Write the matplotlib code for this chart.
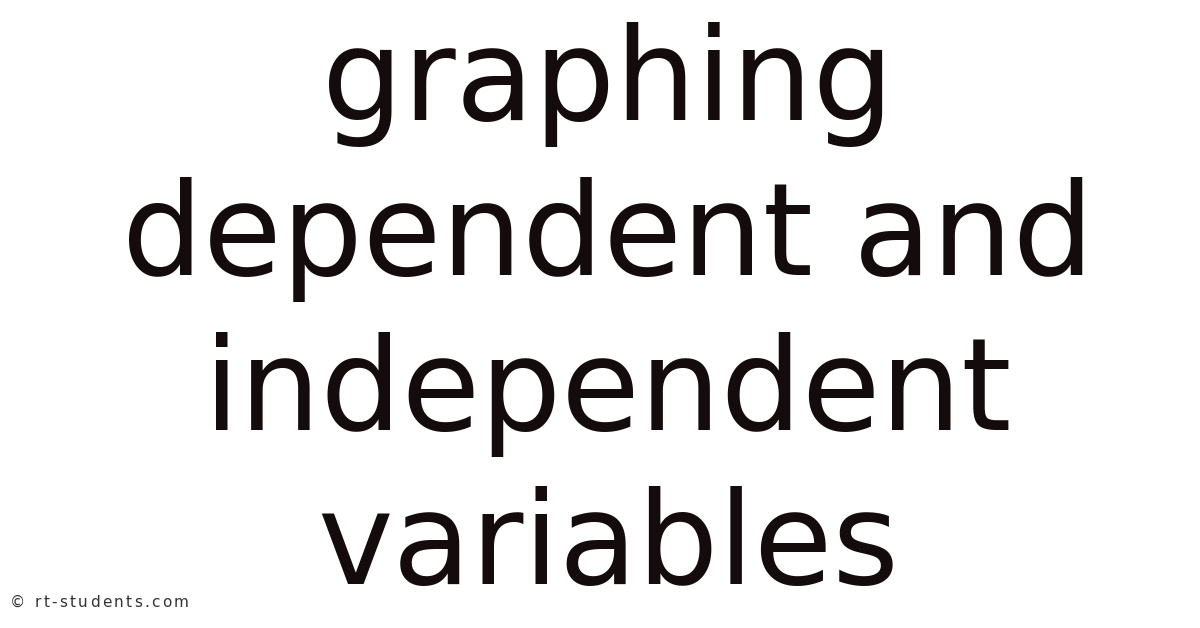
import matplotlib
matplotlib.use("Agg")
import matplotlib.pyplot as plt

# Title lines and their baselines (pixels from top)
LINES = ["graphing", "dependent and", "independent", "variables"]
BASELINES = [120, 275, 430, 584]
WATERMARK = "\u00a9 rt-students.com"

W, H = 1200, 628
fig = plt.figure(figsize=(W / 100, H / 100), dpi=100)
fig.patch.set_facecolor("white")

for line, y in zip(LINES, BASELINES):
    fig.text(608 / W, 1 - y / H, line, ha="center", va="baseline",
             fontsize=92, color="#140c0c", family="DejaVu Sans")

# watermark drawn char by char to get the wider tracking
renderer = fig.canvas.get_renderer()
wm_size = 11
tracking = 2.3  # px between glyphs


def text_width(s):
    t = fig.text(0, 0, s, fontsize=wm_size, family="DejaVu Sans")
    w = t.get_window_extent(renderer).width
    t.remove()
    return w


x = 10.0
for i, ch in enumerate(WATERMARK):
    px = 10.0 + text_width(WATERMARK[:i + 1] + "|") - text_width(ch + "|") + i * tracking
    if ch != " ":
        fig.text(px / W, 1 - 607 / H, ch, ha="left", va="baseline",
                 fontsize=wm_size, color="#333333", family="DejaVu Sans")

fig.savefig("out.png", dpi=100, facecolor="white")
